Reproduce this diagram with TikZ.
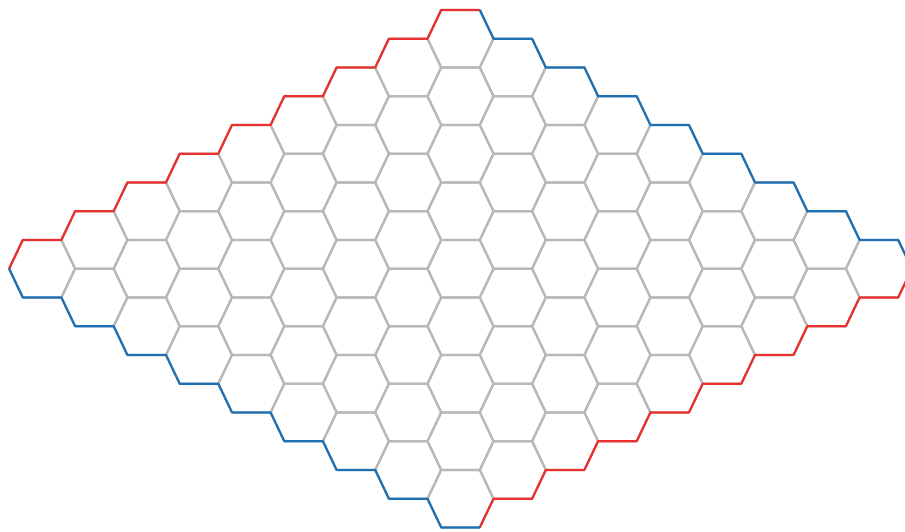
\documentclass[tikz,border=0pt]{standalone}
\usepackage{tikz}

\definecolor{hexred}{RGB}{234,48,46}
\definecolor{hexblue}{RGB}{30,112,180}
\definecolor{hexgray}{RGB}{184,184,184}

\begin{document}
\begin{tikzpicture}[x=1pt, y=-1pt,
    cell/.style={draw=hexgray, line width=2.2pt, line join=round},
    redside/.style={hexred, line width=2.2pt, line join=round},
    blueside/.style={hexblue, line width=2.2pt, line join=round}
]

% Page frame
\useasboundingbox (0,0) rectangle (905,531);
\clip (0,0) rectangle (905,531);

% Board cells (9 x 9 rhombus)
\foreach \i in {0,...,8}
  \foreach \j in {0,...,8}
    \draw[cell, shift={({460.5+(\i-\j)*52.3},{38.7+(\i+\j)*28.75})}]
      (-19.3,-28.75) -- (19.3,-28.75) -- (33,0) -- (19.3,28.75)
      -- (-19.3,28.75) -- (-33,0) -- cycle;

% Corners of the board
\coordinate (W) at (9.1,268.7);
\coordinate (E) at (911.9,268.7);
\coordinate (N) at (479.8,9.95);

% Red sides
\draw[redside] (W) \foreach \k in {1,...,9} { -- ++(13.7,-28.75) -- ++(38.6,0) };
\draw[redside] (E) \foreach \k in {1,...,8} { -- ++(-13.7,28.75) -- ++(-38.6,0) } -- ++(-13.7,28.75);

% Blue sides
\draw[blueside] (N) -- ++(13.7,28.75) \foreach \k in {1,...,8} { -- ++(38.6,0) -- ++(13.7,28.75) };
\draw[blueside] (W) \foreach \k in {1,...,9} { -- ++(13.7,28.75) -- ++(38.6,0) };

\end{tikzpicture}
\end{document}
